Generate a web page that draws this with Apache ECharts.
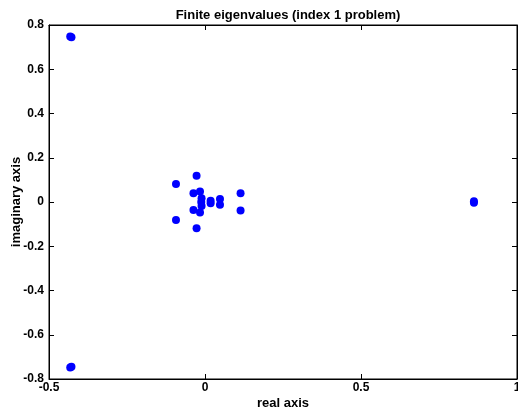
<!DOCTYPE html>
<html>
<head>
<meta charset="utf-8">
<script src="https://cdn.jsdelivr.net/npm/echarts@6/dist/echarts.min.js"></script>
<style>
  html, body { margin: 0; padding: 0; background: #fff; }
  #chart { width: 518px; height: 414px; }
</style>
</head>
<body>
<div id="chart"></div>
<script>
// 特征值数据（实部 / 虚部）
const realParts = [
    -0.432, -0.428, -0.432, -0.428,
    -0.093, -0.093, -0.027, -0.027,
    -0.037, -0.037, -0.016, -0.016,
    -0.011, -0.011, -0.012,
    0.018, 0.018, 0.048, 0.048,
    0.114, 0.114, 0.862, 0.862
];
const imagParts = [
    0.748, 0.745, -0.748, -0.745,
    0.081, -0.081, 0.119, -0.119,
    0.039, -0.036, 0.047, -0.048,
    0.017, -0.018, 0.0,
    0.006, -0.006, 0.014, -0.012,
    0.039, -0.038, 0.003, -0.003
];
const xTicks = [-0.5, 0, 0.5, 1];
const yTicks = [-0.8, -0.6, -0.4, -0.2, 0, 0.2, 0.4, 0.6, 0.8];

const points = realParts.map((x, i) => [x, imagParts[i]]);

const chart = echarts.init(document.getElementById('chart'), null, { renderer: 'canvas' });

const font = 'Liberation Sans, Arial, Helvetica, sans-serif';
const tickStyle = { color: '#000', fontSize: 12, fontWeight: 'bold', fontFamily: font };
const nameStyle = { color: '#000', fontSize: 13, fontWeight: 'bold', fontFamily: font };

const axisCommon = {
    axisLine: { show: true, onZero: false, lineStyle: { color: '#000' } },
    axisTick: { show: true, inside: true, length: 5, lineStyle: { color: '#000' } },
    splitLine: { show: false }
};

const option = {
    backgroundColor: '#fff',
    animation: false,
    title: {
        text: 'Finite eigenvalues (index 1 problem)',
        left: 283,
        top: 4,
        textAlign: 'center',
        textStyle: nameStyle
    },
    grid: {
        left: 49, right: 1, top: 25, bottom: 35,
        outerBoundsMode: 'none', containLabel: false,
        show: true, borderColor: '#000', borderWidth: 1
    },
    xAxis: [Object.assign({
        type: 'value',
        min: xTicks[0], max: xTicks[xTicks.length - 1], interval: 0.5,
        position: 'bottom',
        name: 'real axis',
        nameLocation: 'middle',
        nameGap: 18,
        nameMoveOverlap: false,
        nameTextStyle: nameStyle,
        axisLabel: Object.assign({ margin: 3, formatter: v => String(v) }, tickStyle)
    }, axisCommon), Object.assign({
        type: 'value',
        min: xTicks[0], max: xTicks[xTicks.length - 1], interval: 0.5,
        position: 'top',
        axisLabel: { show: false }
    }, axisCommon)],
    yAxis: [Object.assign({
        type: 'value',
        min: yTicks[0], max: yTicks[yTicks.length - 1], interval: 0.2,
        position: 'left',
        name: 'imaginary axis',
        nameLocation: 'middle',
        nameGap: 26,
        nameMoveOverlap: false,
        nameTextStyle: nameStyle,
        axisLabel: Object.assign({ margin: 5, formatter: v => String(Math.round(v * 10) / 10) }, tickStyle)
    }, axisCommon), Object.assign({
        type: 'value',
        min: yTicks[0], max: yTicks[yTicks.length - 1], interval: 0.2,
        position: 'right',
        axisLabel: { show: false }
    }, axisCommon)],
    series: [{
        type: 'scatter',
        xAxisIndex: 0,
        yAxisIndex: 0,
        data: points,
        symbol: 'circle',
        symbolSize: 8,
        itemStyle: { color: '#0000ff', opacity: 1 }
    }]
};

chart.setOption(option);
</script>
</body>
</html>
